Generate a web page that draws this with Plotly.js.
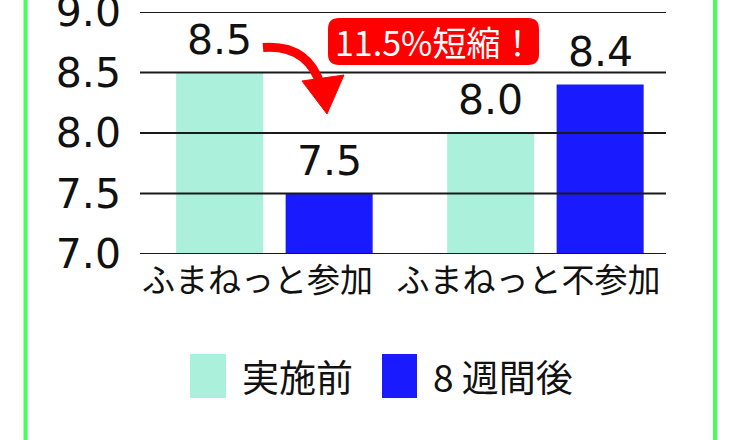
<!DOCTYPE html>
<html>
<head>
<meta charset="utf-8">
<script src="https://cdn.plot.ly/plotly-3.0.1.min.js"></script>
<style>html,body{margin:0;padding:0;background:#fff;}#chart{width:740px;height:440px;}</style>
</head>
<body>
<div id="chart"></div>
<script>
// ---- data ----
var categories = ["ふまねっと参加", "ふまねっと不参加"];
var seriesNames = ["実施前", "8 週間後"];
var beforeValues = [8.5, 8.0];
var afterValues = [7.5, 8.4];
var yTicks = [7.0, 7.5, 8.0, 8.5, 9.0];
var yTickText = ["7.0", "7.5", "8.0", "8.5", "9.0"];
var calloutText = "11.5%短縮！";

// ---- style ----
var colBefore = "#aaf0da";
var colAfter = "#1a1aff";
var green = "#44ff55";
var red = "#ff0000";
var numFont = "DejaVu Sans, Liberation Sans, sans-serif";
var jpFont = "Noto Sans CJK JP, sans-serif";
var numSize = 41;

var W = 740, H = 440;
var M = {l: 140, r: 74, t: 12, b: 186};
var PW = W - M.l - M.r, PH = H - M.t - M.b;
function px(x) { return (x - M.l) / PW; }
function py(y) { return (H - M.b - y) / PH; }

var traces = [
  {type: "bar", name: seriesNames[0], x: categories, y: beforeValues,
   marker: {color: colBefore}, hoverinfo: "none"},
  {type: "bar", name: seriesNames[1], x: categories, y: afterValues,
   marker: {color: colAfter}, hoverinfo: "none"}
];

var shapes = [];
// horizontal grid lines drawn over the bars
yTicks.forEach(function(v){
  shapes.push({type: "line", xref: "paper", yref: "y", x0: 0, x1: 1, y0: v, y1: v,
    line: {color: "#1a1a1a", width: 2}, layer: "above"});
});
// green frame lines
shapes.push({type: "line", xref: "paper", yref: "paper", x0: px(25.5), x1: px(25.5), y0: py(-5), y1: py(445),
  line: {color: green, width: 4}, layer: "above"});
shapes.push({type: "line", xref: "paper", yref: "paper", x0: px(715), x1: px(715), y0: py(-5), y1: py(445),
  line: {color: green, width: 4}, layer: "above"});
// callout rounded rectangle
(function(){
  var x0 = 328, x1 = 539, y0 = 18, y1 = 65, r = 11;
  var p = "M " + px(x0 + r) + "," + py(y0) +
    " L " + px(x1 - r) + "," + py(y0) +
    " Q " + px(x1) + "," + py(y0) + " " + px(x1) + "," + py(y0 + r) +
    " L " + px(x1) + "," + py(y1 - r) +
    " Q " + px(x1) + "," + py(y1) + " " + px(x1 - r) + "," + py(y1) +
    " L " + px(x0 + r) + "," + py(y1) +
    " Q " + px(x0) + "," + py(y1) + " " + px(x0) + "," + py(y1 - r) +
    " L " + px(x0) + "," + py(y0 + r) +
    " Q " + px(x0) + "," + py(y0) + " " + px(x0 + r) + "," + py(y0) + " Z";
  shapes.push({type: "path", xref: "paper", yref: "paper", path: p,
    fillcolor: red, line: {width: 0}, layer: "above"});
})();
// curved arrow shaft
shapes.push({type: "path", xref: "paper", yref: "paper",
  path: "M " + px(263) + "," + py(47.5) + " Q " + px(308) + "," + py(44) + " " + px(321) + "," + py(86),
  line: {color: red, width: 9}, layer: "above"});
// arrow head
shapes.push({type: "path", xref: "paper", yref: "paper",
  path: "M " + px(302) + "," + py(81) + " L " + px(344) + "," + py(75) + " L " + px(327) + "," + py(114) + " Z",
  fillcolor: red, line: {color: red, width: 1}, layer: "above"});
// legend swatches
shapes.push({type: "rect", xref: "paper", yref: "paper", x0: px(190), x1: px(226), y0: py(398), y1: py(354),
  fillcolor: colBefore, line: {width: 0}});
shapes.push({type: "rect", xref: "paper", yref: "paper", x0: px(382), x1: px(417), y0: py(398), y1: py(354),
  fillcolor: colAfter, line: {width: 0}});

var annotations = [
  {xref: "paper", yref: "paper", x: px(434), y: py(41.5), text: calloutText, showarrow: false,
   xanchor: "center", yanchor: "middle", font: {family: jpFont, size: 34, color: "#fff"}},
  {xref: "paper", yref: "paper", x: px(240), y: py(376), text: seriesNames[0], showarrow: false,
   xanchor: "left", yanchor: "middle", font: {family: jpFont, size: 37, color: "#111"}},
  {xref: "paper", yref: "paper", x: px(431), y: py(376), text: seriesNames[1], showarrow: false,
   xanchor: "left", yanchor: "middle", font: {family: jpFont, size: 37, color: "#111"}}
];
// value labels above bars (grouped offset of half a bar slot)
var halfSlot = 55;
[beforeValues, afterValues].forEach(function(vals, si){
  vals.forEach(function(v, i){
    annotations.push({xref: "x", yref: "y", x: categories[i], y: v, text: v.toFixed(1),
      showarrow: false, xanchor: "center", yanchor: "bottom",
      xshift: (si === 0 ? -halfSlot : halfSlot), yshift: 7,
      font: {family: numFont, size: numSize, color: "#111"}});
  });
});

var layout = {
  width: W, height: H,
  margin: M,
  paper_bgcolor: "#fff", plot_bgcolor: "#fff",
  showlegend: false,
  barmode: "group", bargap: 0.192, bargroupgap: 0.205,
  xaxis: {type: "category", range: [-0.496, 1.445], showgrid: false, zeroline: false,
    showline: false, ticks: "", ticklabelshift: -17, ticklabelstandoff: 4,
    tickfont: {family: jpFont, size: 33, color: "#111"}, fixedrange: true},
  yaxis: {range: [7, 9], tickmode: "array", tickvals: yTicks, ticktext: yTickText,
    showgrid: false, zeroline: false, showline: false, ticks: "", ticklabelstandoff: 18,
    ticklabeloverflow: "allow",
    tickfont: {family: numFont, size: numSize, color: "#111"}, fixedrange: true},
  shapes: shapes,
  annotations: annotations,
  font: {family: jpFont}
};

Plotly.newPlot("chart", traces, layout, {staticPlot: true, displayModeBar: false});
</script>
</body>
</html>
